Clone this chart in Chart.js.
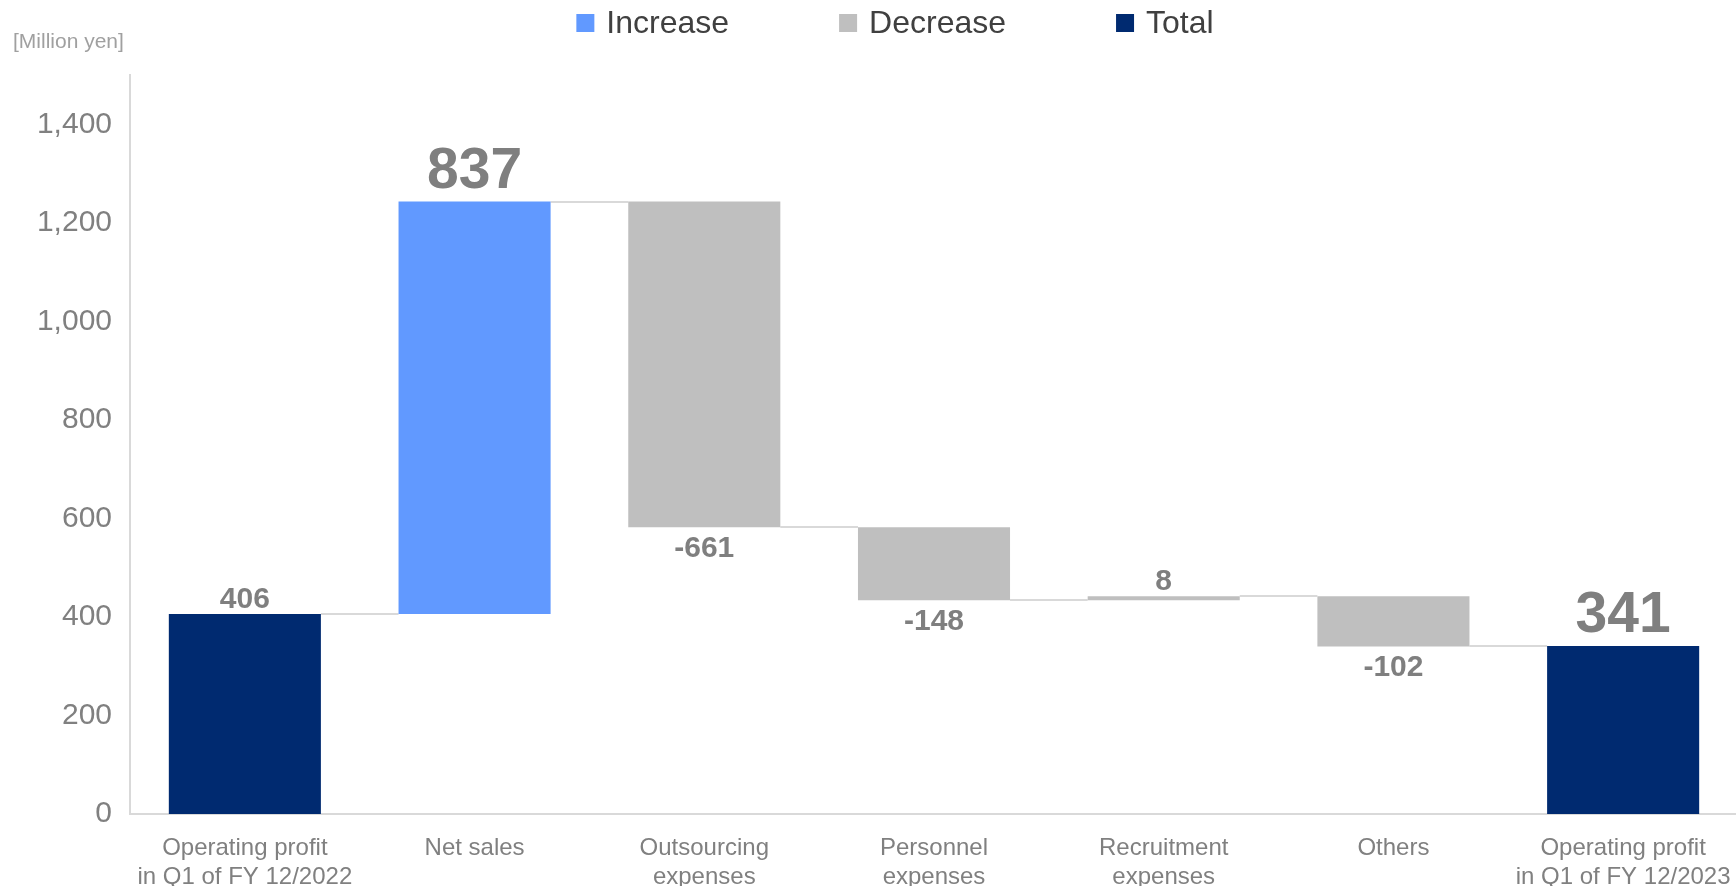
<!DOCTYPE html>
<html><head><meta charset="utf-8">
<script src="https://cdn.jsdelivr.net/npm/chart.js@4.4.1/dist/chart.umd.min.js"></script>
<style>
html,body{margin:0;padding:0;overflow:hidden;background:#fff;}
#wrap{position:relative;width:1740px;height:886px;}
</style></head><body>
<div id="wrap"><canvas id="c"></canvas></div>
<script>
const categories = [["Operating profit","in Q1 of FY 12/2022"],"Net sales",["Outsourcing","expenses"],["Personnel","expenses"],["Recruitment","expenses"],"Others",["Operating profit","in Q1 of FY 12/2023"]];
const changes = [406, 837, -661, -148, 8, -102, 341];
const kinds = ["total","increase","decrease","decrease","decrease","decrease","total"];
const valueLabels = ["406","837","-661","-148","8","-102","341"];
const yTickValues = [0, 200, 400, 600, 800, 1000, 1200, 1400];
const seriesNames = ["Increase","Decrease","Total"];
const seriesKinds = ["increase","decrease","total"];
const yUnit = "[Million yen]";

const FONT = '"Liberation Sans", Arial, sans-serif';
const colors = {increase:'#6199ff', decrease:'#bfbfbf', total:'#002a70'};

// floating ranges for the waterfall
let run = 0;
const ranges = changes.map((v, i) => {
  if (kinds[i] === 'total') { run = v; return [0, v]; }
  const r = [run, run + v]; run += v; return r;
});
const mk = k => ranges.map((r, i) => kinds[i] === k ? r : null);

function barEl(chart, i) {
  for (let d = 0; d < chart.data.datasets.length; d++) {
    if (chart.data.datasets[d].data[i] != null) return chart.getDatasetMeta(d).data[i];
  }
  return null;
}

const waterfallPlugin = {
  id: 'waterfall',
  beforeDatasetsDraw(chart) {
    const ctx = chart.ctx, y = chart.scales.y;
    ctx.save();
    ctx.strokeStyle = '#d9d9d9';
    ctx.lineWidth = 2;
    for (let i = 0; i < categories.length - 1; i++) {
      const a = barEl(chart, i), b = barEl(chart, i + 1);
      if (!a || !b) continue;
      const py = Math.round(y.getPixelForValue(ranges[i][1]));
      ctx.beginPath();
      ctx.moveTo(a.x + a.width / 2, py);
      ctx.lineTo(b.x - b.width / 2, py);
      ctx.stroke();
    }
    ctx.restore();
  },
  afterDatasetsDraw(chart) {
    const ctx = chart.ctx;
    const last = categories.length - 1;
    ctx.save();
    ctx.fillStyle = '#7f7f7f';
    ctx.textAlign = 'center';
    ctx.textBaseline = 'alphabetic';
    for (let i = 0; i < categories.length; i++) {
      const el = barEl(chart, i);
      if (!el) continue;
      const top = Math.min(el.y, el.base), bottom = Math.max(el.y, el.base);
      const big = (i === 1 || i === last);
      ctx.font = 'bold ' + (big ? 57 : 30) + 'px ' + FONT;
      let yy;
      if (changes[i] >= 0) yy = top - (big ? 14 : 6);
      else yy = bottom + 30;
      ctx.fillText(valueLabels[i], el.x, yy);
    }
    ctx.restore();
  },
  afterDraw(chart) {
    const ctx = chart.ctx;
    ctx.save();
    // unit label
    ctx.fillStyle = '#a0a0a0';
    ctx.font = '21px ' + FONT;
    ctx.textAlign = 'left';
    ctx.textBaseline = 'middle';
    ctx.fillText(yUnit, 13, 42);
    // legend
    ctx.font = '32px ' + FONT;
    const box = 18, gap = 12, spacing = 110;
    const widths = seriesNames.map(n => box + gap + ctx.measureText(n).width);
    const total = widths.reduce((s, w) => s + w, 0) + spacing * (seriesNames.length - 1);
    let x = 895 - total / 2;
    const cy = 23;
    seriesNames.forEach((n, k) => {
      ctx.fillStyle = colors[seriesKinds[k]];
      ctx.fillRect(x, cy - box / 2, box, box);
      ctx.fillStyle = '#404040';
      ctx.fillText(n, x + box + gap, cy + 1);
      x += widths[k] + spacing;
    });
    ctx.restore();
  }
};

new Chart(document.getElementById('c'), {
  type: 'bar',
  data: {
    labels: categories,
    datasets: seriesNames.map((n, k) => ({
      label: n,
      data: mk(seriesKinds[k]),
      backgroundColor: colors[seriesKinds[k]],
      borderWidth: 0,
      grouped: false,
      barPercentage: 0.662,
      categoryPercentage: 1.0
    }))
  },
  options: {
    responsive: true,
    maintainAspectRatio: false,
    animation: false,
    layout: { padding: { left: 0, right: 2, top: 75, bottom: 0 } },
    plugins: { legend: { display: false }, tooltip: { enabled: false } },
    scales: {
      x: {
        grid: { display: false, drawTicks: false },
        border: { display: true, color: '#d9d9d9', width: 2 },
        ticks: { color: '#808080', font: { family: FONT, size: 24 }, padding: 20, maxRotation: 0, autoSkip: false },
        afterFit: s => { s.height = 72; s.paddingLeft = 0; s.paddingRight = 0; }
      },
      y: {
        min: 0, max: 1500,
        grid: { display: false, drawTicks: false },
        border: { display: true, color: '#d9d9d9', width: 2 },
        ticks: { color: '#808080', font: { family: FONT, size: 30 }, padding: 18,
                 callback: v => v.toLocaleString('en-US') },
        afterBuildTicks: s => { s.ticks = yTickValues.map(v => ({ value: v })); },
        afterFit: s => { s.width = 130; }
      }
    }
  },
  plugins: [waterfallPlugin]
});
</script>
</body></html>
